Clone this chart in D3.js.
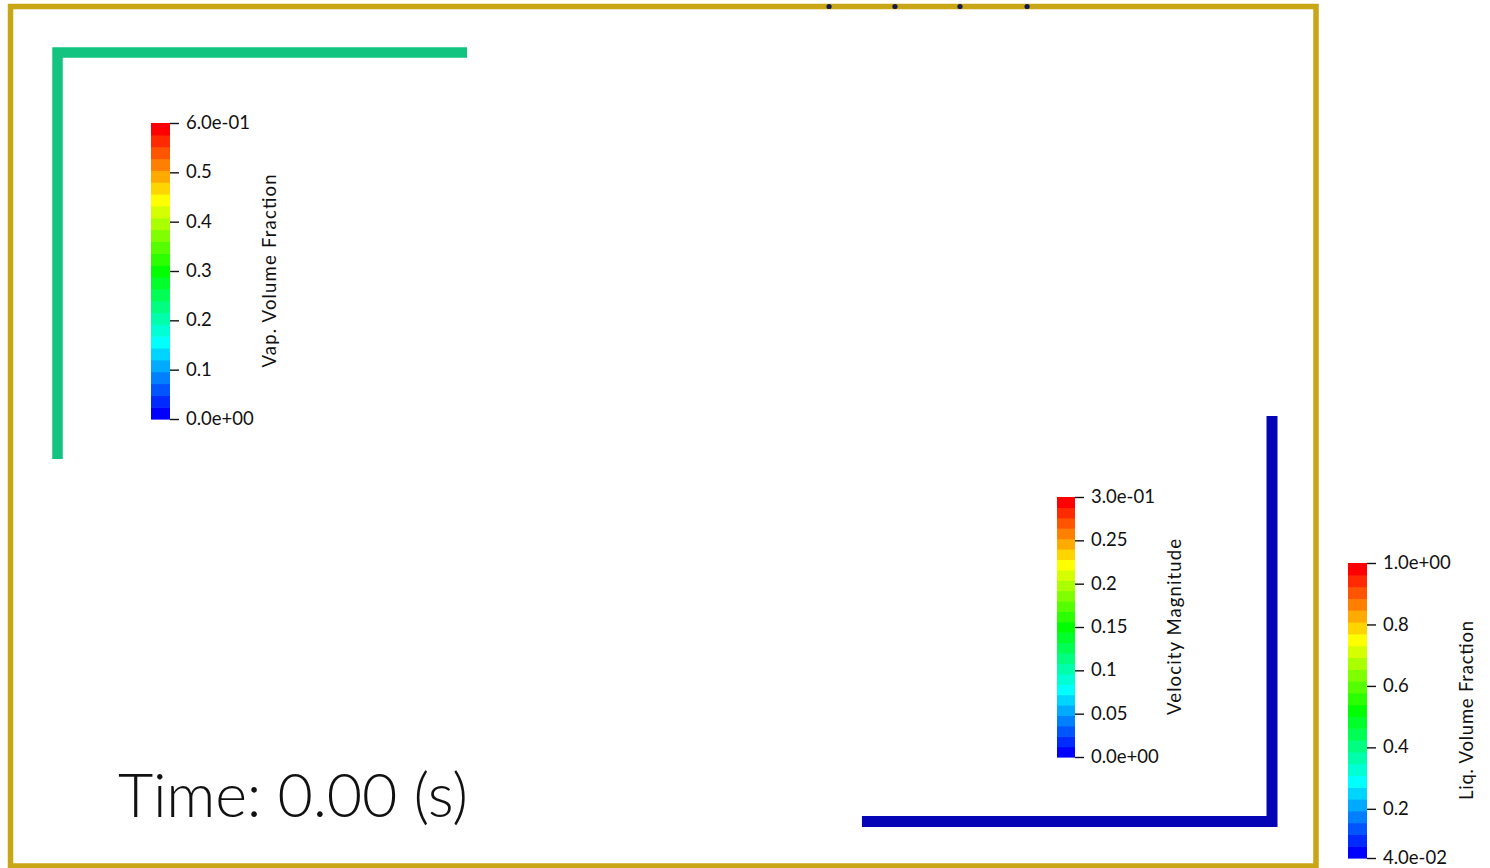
<!DOCTYPE html>
<html>
<head>
<meta charset="utf-8">
<script src="https://cdn.jsdelivr.net/npm/d3@7"></script>
<style>
  html, body { margin: 0; padding: 0; background: #fff; }
  svg { display: block; }
  text { font-family: Lato, "Open Sans", sans-serif; fill: #111; }
</style>
</head>
<body>
<svg id="view" width="1490" height="868"></svg>
<script>
// ---- scene geometry (scene units, y up) ----
const greenPipe = [[0.0360, 0.3117], [0.0360, 0.6231], [0.3497, 0.6231]];
const bluePipe  = [[0.6522, 0.0341], [0.9663, 0.0341], [0.9663, 0.3447]];
const probeX    = [0.6270, 0.6775, 0.7273, 0.7787];
const frameSize = [1.0, 0.6584];

// ---- colour bars ----
const vapDomain = [0, 0.6];
const vapTicks  = [0, 0.1, 0.2, 0.3, 0.4, 0.5, 0.6];
const vapLabels = ["0.0e+00", "0.1", "0.2", "0.3", "0.4", "0.5", "6.0e-01"];

const velDomain = [0, 0.3];
const velTicks  = [0, 0.05, 0.1, 0.15, 0.2, 0.25, 0.3];
const velLabels = ["0.0e+00", "0.05", "0.1", "0.15", "0.2", "0.25", "3.0e-01"];

const liqDomain = [0.04, 1.0];
const liqTicks  = [0.04, 0.2, 0.4, 0.6, 0.8, 1.0];
const liqLabels = ["4.0e-02", "0.2", "0.4", "0.6", "0.8", "1.0e+00"];

const tableValues = 25;
const timeValue = 0.00;

const svg = d3.select("#view");

// scene -> screen
const sx = d3.scaleLinear().domain([0, frameSize[0]]).range([10.5, 1316]);
const sy = d3.scaleLinear().domain([0, frameSize[1]]).range([866, 6.5]);

// frame
svg.append("rect")
  .attr("x", sx(0)).attr("y", sy(frameSize[1]))
  .attr("width", sx(frameSize[0]) - sx(0))
  .attr("height", sy(0) - sy(frameSize[1]))
  .attr("fill", "none")
  .attr("stroke", "#c9a616")
  .attr("stroke-width", 5.5);

// probe points on the top edge
svg.selectAll("circle.probe").data(probeX).join("circle")
  .attr("class", "probe")
  .attr("cx", d => sx(d)).attr("cy", sy(frameSize[1]))
  .attr("r", 2.6)
  .attr("fill", "#141a4a");

const line = d3.line().x(d => sx(d[0])).y(d => sy(d[1]));

svg.append("path").datum(greenPipe)
  .attr("d", line)
  .attr("fill", "none")
  .attr("stroke", "#12c47f")
  .attr("stroke-width", 10.5)
  .attr("stroke-linejoin", "miter")
  .attr("stroke-linecap", "butt");

svg.append("path").datum(bluePipe)
  .attr("d", line)
  .attr("fill", "none")
  .attr("stroke", "#0505b6")
  .attr("stroke-width", 11)
  .attr("stroke-linejoin", "miter")
  .attr("stroke-linecap", "butt");

// blue-to-red rainbow (hue 240 -> 0), discretised into table values
function rainbow(t) {
  return d3.hsl(240 * (1 - t), 1, 0.5).formatRgb();
}

function colorBar(opts) {
  const { x, top, bottom, width, domain, ticks, labels, title } = opts;
  const g = svg.append("g");
  const y = d3.scaleLinear().domain(domain).range([bottom, top]);
  const bandH = (bottom - top) / tableValues;
  const bands = d3.range(tableValues);

  g.selectAll("rect.band").data(bands).join("rect")
    .attr("class", "band")
    .attr("x", x)
    .attr("y", i => bottom - (i + 1) * bandH)
    .attr("width", width)
    .attr("height", bandH + 0.6)
    .attr("fill", i => rainbow(i / (tableValues - 1)));

  const axis = d3.axisRight(y)
    .tickValues(ticks)
    .tickSize(9)
    .tickPadding(7)
    .tickFormat((d, i) => labels[i]);

  const ag = g.append("g")
    .attr("transform", `translate(${x + width},0)`)
    .call(axis);
  ag.select(".domain").remove();
  ag.selectAll(".tick line").attr("stroke", "#111").attr("stroke-width", 1.4);
  ag.selectAll(".tick text")
    .attr("font-family", "Lato, sans-serif")
    .attr("font-size", 18.5)
    .attr("fill", "#111")
    .attr("dy", "0.3em");

  const tx = x + width + 106;
  const ty = (top + bottom) / 2;
  g.append("text")
    .attr("transform", `translate(${tx},${ty}) rotate(-90)`)
    .attr("text-anchor", "middle")
    .attr("font-size", 18.5)
    .attr("textLength", opts.titleLen)
    .attr("lengthAdjust", "spacing")
    .text(title);
}

colorBar({ x: 151, top: 123, bottom: 419, width: 19,
  domain: vapDomain, ticks: vapTicks, labels: vapLabels,
  title: "Vap. Volume Fraction", titleLen: 193 });

colorBar({ x: 1057, top: 497, bottom: 757, width: 18,
  domain: velDomain, ticks: velTicks, labels: velLabels,
  title: "Velocity Magnitude", titleLen: 176 });

colorBar({ x: 1348, top: 563, bottom: 858, width: 19,
  domain: liqDomain, ticks: liqTicks, labels: liqLabels,
  title: "Liq. Volume Fraction", titleLen: 179 });

// time annotation
svg.append("text")
  .attr("x", 118).attr("y", 817)
  .attr("font-size", 61)
  .attr("font-weight", 300)
  .attr("textLength", 350)
  .attr("lengthAdjust", "spacing")
  .text(`Time: ${timeValue.toFixed(2)} (s)`);
</script>
</body>
</html>
